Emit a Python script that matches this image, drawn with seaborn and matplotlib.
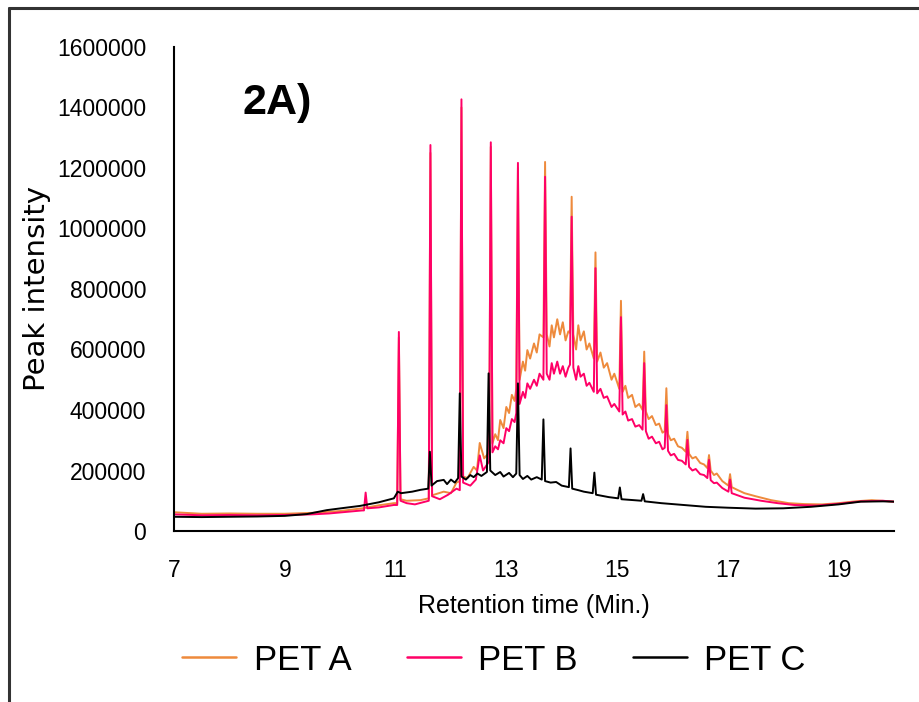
import numpy as np
import pandas as pd
import matplotlib
matplotlib.use("Agg")
import matplotlib.pyplot as plt
import matplotlib.ticker as mticker
from matplotlib.lines import Line2D
import seaborn as sns

import warnings
warnings.filterwarnings("ignore")

# PET A (orange) - retention time (min) and intensity
petA_t = [7.0, 7.5, 8.0, 8.5, 9.0, 9.5, 10.0, 10.4, 10.7, 10.97,
          11.03, 11.06, 11.09, 11.2, 11.45, 11.60, 11.63, 11.66, 11.87, 12.0,
          12.1, 12.16, 12.19, 12.22, 12.3, 12.41, 12.47, 12.52, 12.6, 12.69,
          12.72, 12.75, 12.8, 12.85, 12.89, 12.95, 13.0, 13.05, 13.1, 13.15,
          13.18, 13.21, 13.24, 13.3, 13.34, 13.38, 13.43, 13.5, 13.55, 13.6,
          13.67, 13.70, 13.73, 13.78, 13.82, 13.86, 13.92, 13.97, 14.02, 14.07,
          14.12, 14.15, 14.18, 14.21, 14.26, 14.3, 14.34, 14.4, 14.45, 14.5,
          14.58, 14.61, 14.64, 14.7, 14.76, 14.82, 14.9, 14.95, 15.04, 15.07,
          15.10, 15.15, 15.2, 15.27, 15.33, 15.4, 15.46, 15.49, 15.52, 15.57,
          15.63, 15.7, 15.76, 15.82, 15.86, 15.89, 15.92, 15.97, 16.03, 16.1,
          16.17, 16.24, 16.27, 16.30, 16.36, 16.42, 16.5, 16.57, 16.63, 16.66,
          16.69, 16.75, 16.8, 16.9, 17.01, 17.04, 17.07, 17.17, 17.3, 17.5,
          17.78, 18.1, 18.38, 18.7, 19.0, 19.3, 19.6, 20.0]
petA_y = [62000, 57000, 58000, 57000, 57000, 60000, 66000, 75000, 85000, 92000,
          92000, 640000, 105000, 100000, 102000, 108000, 1250000, 118000, 130000, 125000,
          160000, 165000, 1400000, 180000, 175000, 212000, 200000, 291000, 240000, 260000,
          1270000, 290000, 320000, 300000, 367000, 340000, 410000, 390000, 450000, 430000,
          470000, 1200000, 500000, 560000, 530000, 598000, 570000, 620000, 590000, 650000,
          640000, 1220000, 650000, 610000, 680000, 640000, 700000, 650000, 690000, 630000,
          660000, 655000, 1105000, 650000, 600000, 680000, 630000, 660000, 600000, 620000,
          570000, 921000, 560000, 590000, 540000, 555000, 500000, 520000, 470000, 761000,
          460000, 480000, 440000, 450000, 410000, 420000, 400000, 593000, 395000, 370000,
          380000, 350000, 355000, 325000, 330000, 472000, 320000, 300000, 305000, 280000,
          275000, 262000, 328000, 255000, 240000, 245000, 225000, 220000, 208000, 251000,
          200000, 185000, 190000, 165000, 150000, 188000, 145000, 136000, 125000, 115000,
          102000, 92000, 89000, 88000, 92000, 98000, 102000, 97000]

# PET B (pink)
petB_t = [7.0, 7.5, 8.0, 8.5, 9.0, 9.5, 9.8, 10.1, 10.4, 10.43,
          10.46, 10.49, 10.7, 10.97, 11.03, 11.06, 11.09, 11.2, 11.35, 11.5,
          11.60, 11.63, 11.66, 11.8, 11.95, 12.1, 12.16, 12.19, 12.22, 12.35,
          12.45, 12.52, 12.58, 12.69, 12.72, 12.75, 12.8, 12.85, 12.89, 12.95,
          13.0, 13.05, 13.1, 13.15, 13.18, 13.21, 13.24, 13.3, 13.34, 13.38,
          13.43, 13.5, 13.55, 13.6, 13.67, 13.70, 13.73, 13.78, 13.82, 13.86,
          13.92, 13.97, 14.02, 14.07, 14.12, 14.15, 14.18, 14.21, 14.26, 14.3,
          14.34, 14.4, 14.45, 14.5, 14.58, 14.61, 14.64, 14.7, 14.76, 14.82,
          14.9, 14.95, 15.04, 15.07, 15.10, 15.15, 15.2, 15.27, 15.33, 15.4,
          15.46, 15.49, 15.52, 15.57, 15.63, 15.7, 15.76, 15.82, 15.86, 15.89,
          15.92, 15.97, 16.03, 16.1, 16.17, 16.24, 16.27, 16.30, 16.36, 16.42,
          16.5, 16.57, 16.63, 16.66, 16.69, 16.75, 16.8, 16.9, 17.01, 17.04,
          17.07, 17.3, 17.6, 17.9, 18.2, 18.6, 19.0, 19.4, 19.8, 20.0]
petB_y = [55000, 52000, 53000, 52000, 53000, 55000, 58000, 63000, 68000, 68000,
          127000, 75000, 78000, 86000, 86000, 658000, 100000, 92000, 88000, 95000,
          100000, 1276000, 115000, 105000, 120000, 140000, 135000, 1427000, 160000, 150000,
          170000, 250000, 200000, 230000, 1285000, 260000, 280000, 270000, 300000, 290000,
          340000, 330000, 370000, 360000, 390000, 1217000, 420000, 460000, 440000, 488000,
          470000, 500000, 480000, 520000, 500000, 1171000, 520000, 500000, 555000, 520000,
          560000, 520000, 545000, 510000, 540000, 550000, 1039000, 540000, 500000, 545000,
          510000, 520000, 480000, 490000, 460000, 869000, 455000, 470000, 440000, 445000,
          410000, 420000, 395000, 707000, 385000, 395000, 365000, 370000, 345000, 350000,
          335000, 555000, 330000, 305000, 312000, 290000, 295000, 270000, 275000, 416000,
          265000, 250000, 255000, 235000, 232000, 220000, 301000, 212000, 200000, 205000,
          188000, 185000, 175000, 235000, 168000, 158000, 160000, 142000, 130000, 170000,
          125000, 110000, 100000, 92000, 86000, 84000, 90000, 98000, 100000, 97000]

# PET C (black)
petC_t = [7.0, 7.5, 8.0, 8.5, 9.0, 9.4, 9.76, 10.1, 10.36, 10.7,
          10.97, 11.04, 11.1, 11.3, 11.45, 11.59, 11.62, 11.65, 11.75, 11.87,
          11.93, 12.0, 12.07, 12.13, 12.16, 12.19, 12.27, 12.35, 12.41, 12.48,
          12.55, 12.65, 12.68, 12.71, 12.8, 12.89, 12.95, 13.05, 13.12, 13.18,
          13.21, 13.24, 13.3, 13.38, 13.45, 13.55, 13.64, 13.67, 13.70, 13.8,
          13.9, 14.0, 14.13, 14.16, 14.19, 14.3, 14.4, 14.56, 14.59, 14.62,
          14.85, 15.02, 15.05, 15.08, 15.3, 15.44, 15.47, 15.5, 15.8, 16.2,
          16.6, 17.0, 17.5, 18.0, 18.5, 19.0, 19.4, 19.8, 20.0]
petC_y = [47000, 46000, 47000, 48000, 50000, 56000, 69000, 77000, 83000, 95000,
          108000, 130000, 125000, 130000, 136000, 140000, 262000, 150000, 165000, 169000,
          155000, 170000, 160000, 175000, 455000, 180000, 170000, 185000, 178000, 190000,
          182000, 195000, 521000, 200000, 185000, 195000, 180000, 192000, 178000, 190000,
          488000, 185000, 172000, 182000, 170000, 178000, 170000, 369000, 165000, 160000,
          162000, 150000, 145000, 273000, 140000, 135000, 130000, 125000, 193000, 120000,
          112000, 108000, 144000, 105000, 102000, 100000, 122000, 98000, 92000, 86000,
          80000, 77000, 74000, 75000, 80000, 88000, 97000, 98000, 97000]

series_names = ["PET A", "PET B", "PET C"]
colors = ["#EE8A3C", "#FF0066", "#000000"]
x_ticks = [7, 9, 11, 13, 15, 17, 19]
y_ticks = [0, 200000, 400000, 600000, 800000, 1000000, 1200000, 1400000, 1600000]

df = pd.concat([
    pd.DataFrame({"t": petA_t, "y": petA_y, "s": "PET A"}),
    pd.DataFrame({"t": petB_t, "y": petB_y, "s": "PET B"}),
    pd.DataFrame({"t": petC_t, "y": petC_y, "s": "PET C"}),
], ignore_index=True)

sns.set_style("white")
plt.rcParams["text.color"] = "black"
plt.rcParams["xtick.color"] = "black"
plt.rcParams["ytick.color"] = "black"
plt.rcParams["axes.labelcolor"] = "black"
plain = ["Liberation Sans", "DejaVu Sans"]

fig = plt.figure(figsize=(9.2, 7.02), dpi=100)
ax = fig.add_axes([174 / 920, 1 - 531 / 702, (894 - 174) / 920, (531 - 47) / 702])

for name, col in zip(series_names, colors):
    sns.lineplot(data=df[df["s"] == name], x="t", y="y", color=col,
                 sort=False, estimator=None, lw=1.4, ax=ax, legend=False)

ax.set_xlim(7, 20)
ax.set_ylim(0, 1600000)
ax.set_xticks(x_ticks)
ax.set_yticks(y_ticks)
ax.yaxis.set_major_formatter(mticker.FuncFormatter(lambda v, p: "%d" % v))
for s in ["top", "right"]:
    ax.spines[s].set_visible(False)
for s in ["left", "bottom"]:
    ax.spines[s].set_color("black")
    ax.spines[s].set_linewidth(1.5)
ax.tick_params(axis="both", direction="out", length=7, width=1.5, color="black")
ax.tick_params(axis="y", pad=13)
ax.tick_params(axis="x", pad=13)
for lab in ax.get_xticklabels() + ax.get_yticklabels():
    lab.set_family(plain)
    lab.set_fontsize(16.5)

ax.set_xlabel("Retention time (Min.)", family=plain, fontsize=18, labelpad=9)
ax.set_ylabel("")
fig.text(37 / 920, 1 - 288 / 702, "Peak intensity", rotation=90, ha="center",
         va="center", fontsize=21, family=["DejaVu Sans"])

ax.text(0.143, 0.884, "2A)", transform=ax.transAxes, fontsize=31,
        fontweight="bold", family=plain, ha="center", va="center")

handles = [Line2D([0], [0], color=c, lw=1.8) for c in colors]
fig.legend(handles, series_names, loc="center", bbox_to_anchor=(0.537, 1 - 660 / 702),
           ncol=3, frameon=False, prop={"family": plain, "size": 25},
           handlelength=1.55, columnspacing=1.6, handletextpad=0.5)

# outer frame
fig.add_artist(Line2D([9 / 920, 1.0], [1 - 8 / 702, 1 - 8 / 702], color="#333333", lw=2.2,
                      transform=fig.transFigure))
fig.add_artist(Line2D([9 / 920, 9 / 920], [0.0, 1 - 8 / 702], color="#333333", lw=2.2,
                      transform=fig.transFigure))

fig.savefig("out.png", dpi=100)
